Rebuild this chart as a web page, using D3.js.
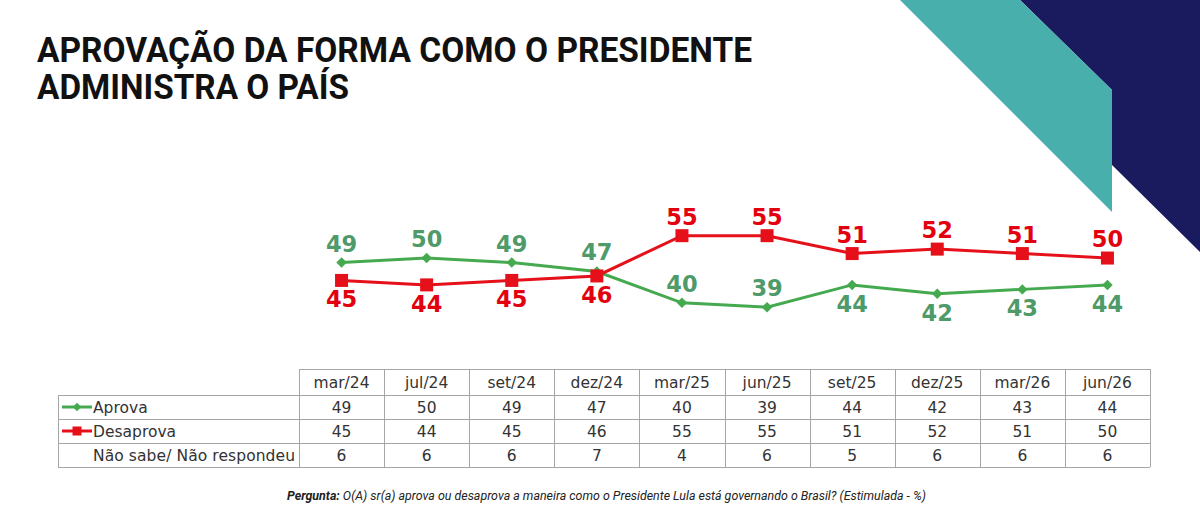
<!DOCTYPE html>
<meta charset='utf-8'>
<style>
html, body {
  margin: 0;
  padding: 0;
  background: #fff;
}
svg {
  display: block;
}
.title {
  font-family: Roboto, 'DejaVu Sans', sans-serif;
  font-weight: 700;
  font-size: 35px;
  fill: #111;
}
.cell {
  font-family: 'DejaVu Sans', Verdana, sans-serif;
  font-size: 15.5px;
  fill: #333;
}
.val {
  font-family: 'DejaVu Sans', Verdana, sans-serif;
  font-weight: bold;
  font-size: 22.5px;
}
.grid {
  stroke: #a6a6a6;
  stroke-width: 1;
  fill: none;
}
.foot {
  font-family: Roboto, sans-serif;
  font-style: italic;
  font-size: 12px;
  fill: #222;
}
</style>
<body>
<div id='chart'></div>
<script src='https://cdn.jsdelivr.net/npm/d3@7/dist/d3.min.js'></script>
<script>

var categories = ['mar/24', 'jul/24', 'set/24', 'dez/24', 'mar/25', 'jun/25', 'set/25', 'dez/25', 'mar/26', 'jun/26'];
var aprova     = [49, 50, 49, 47, 40, 39, 44, 42, 43, 44];
var desaprova  = [45, 44, 45, 46, 55, 55, 51, 52, 51, 50];
var naoSabe    = [6, 6, 6, 7, 4, 6, 5, 6, 6, 6];
var rowLabels  = ['Aprova', 'Desaprova', 'Não sabe/ Não respondeu'];
// where the value label sits relative to its point
var aprovaSide    = ['up', 'up', 'up', 'up', 'up', 'up', 'down', 'down', 'down', 'down'];
var desaprovaSide = ['down', 'down', 'down', 'down', 'up', 'up', 'up', 'up', 'up', 'up'];

var W = 1200, H = 527;
var green = '#45a94f', greenText = '#4f9a69', red = '#e5101a', redText = '#e3000f';

var svg = d3.select('#chart').append('svg')
    .attr('width', W)
    .attr('height', H);

// corner decoration
svg.append('polygon')
  .attr('points', '1020,0 1200,0 1200,252 1112,165 1112,90')
  .attr('fill', '#1a1b5e');
svg.append('polygon')
  .attr('points', '900,0 1020,0 1112,90 1112,212')
  .attr('fill', '#48afad');

// title
svg.append('text').attr('class', 'title')
  .attr('x', 37).attr('y', 62)
  .attr('textLength', 715).attr('lengthAdjust', 'spacingAndGlyphs')
  .text('APROVAÇÃO DA FORMA COMO O PRESIDENTE');
svg.append('text').attr('class', 'title')
  .attr('x', 37).attr('y', 99)
  .attr('textLength', 312).attr('lengthAdjust', 'spacingAndGlyphs')
  .text('ADMINISTRA O PAÍS');

var x = d3.scaleBand()
    .domain(categories)
    .range([299, 1150]);
var cx = function(d) { return x(d) + x.bandwidth() / 2; };

var y = d3.scaleLinear()
    .domain([0, 100])
    .range([481.8, 34.3]);

var line = d3.line()
    .x(function(d, i) { return cx(categories[i]); })
    .y(function(d) { return y(d); });

var diamond = d3.symbol().type(d3.symbolDiamond2).size(70);

// aprova series
svg.append('path')
  .datum(aprova)
  .attr('d', line)
  .attr('fill', 'none')
  .attr('stroke', green)
  .attr('stroke-width', 3);
svg.selectAll('.dm')
  .data(aprova).enter().append('path')
  .attr('class', 'dm')
  .attr('d', diamond)
  .attr('fill', green)
  .attr('transform', function(d, i) { return 'translate(' + cx(categories[i]) + ',' + y(d) + ')'; });

// desaprova series
svg.append('path')
  .datum(desaprova)
  .attr('d', line)
  .attr('fill', 'none')
  .attr('stroke', red)
  .attr('stroke-width', 3);
svg.selectAll('.sq')
  .data(desaprova).enter().append('rect')
  .attr('class', 'sq')
  .attr('x', function(d, i) { return cx(categories[i]) - 6.5; })
  .attr('y', function(d) { return y(d) - 6.5; })
  .attr('width', 13).attr('height', 13)
  .attr('fill', red);

function labels(data, side, color, cls) {
  svg.selectAll('.' + cls)
    .data(data).enter().append('text')
    .attr('class', 'val ' + cls)
    .attr('text-anchor', 'middle')
    .attr('fill', color)
    .attr('x', function(d, i) { return cx(categories[i]); })
    .attr('y', function(d, i) { return y(d) + (side[i] == 'up' ? -11 : 27); })
    .text(function(d) { return d; });
}
labels(aprova, aprovaSide, greenText, 'la');
labels(desaprova, desaprovaSide, redText, 'ld');

// data table
var rowTop = [369, 395, 419, 443, 467];
var tLeft = 58, tLabel = 299, tRight = 1150;

var g = svg.append('g');
// horizontal lines
g.append('line').attr('class', 'grid')
  .attr('x1', tLabel).attr('x2', tRight).attr('y1', rowTop[0] + .5).attr('y2', rowTop[0] + .5);
rowTop.slice(1).forEach(function(t) {
  g.append('line').attr('class', 'grid')
    .attr('x1', tLeft).attr('x2', tRight).attr('y1', t + .5).attr('y2', t + .5);
});
// vertical lines
g.append('line').attr('class', 'grid')
  .attr('x1', tLeft + .5).attr('x2', tLeft + .5).attr('y1', rowTop[1]).attr('y2', rowTop[4]);
categories.forEach(function(c) {
  g.append('line').attr('class', 'grid')
    .attr('x1', Math.round(x(c)) + .5).attr('x2', Math.round(x(c)) + .5)
    .attr('y1', rowTop[0]).attr('y2', rowTop[4]);
});
g.append('line').attr('class', 'grid')
  .attr('x1', tRight + .5).attr('x2', tRight + .5).attr('y1', rowTop[0]).attr('y2', rowTop[4]);

var rowMid = function(r) { return (rowTop[r] + rowTop[r + 1]) / 2 + 5.5; };

g.selectAll('.hd')
  .data(categories).enter().append('text')
  .attr('class', 'cell hd')
  .attr('text-anchor', 'middle')
  .attr('x', function(d) { return cx(d); })
  .attr('y', rowMid(0))
  .text(function(d) { return d; });

[aprova, desaprova, naoSabe].forEach(function(arr, r) {
  g.selectAll('.r' + r)
    .data(arr).enter().append('text')
    .attr('class', 'cell r' + r)
    .attr('text-anchor', 'middle')
    .attr('x', function(d, i) { return cx(categories[i]); })
    .attr('y', rowMid(r + 1))
    .text(function(d) { return d; });
  g.append('text')
    .attr('class', 'cell')
    .attr('x', 93)
    .attr('y', rowMid(r + 1))
    .attr('textLength', r == 2 ? 202 : null)
    .text(rowLabels[r]);
});

// legend keys in the table
var ky1 = (rowTop[1] + rowTop[2]) / 2, ky2 = (rowTop[2] + rowTop[3]) / 2;
g.append('line').attr('x1', 62).attr('x2', 92).attr('y1', ky1).attr('y2', ky1)
  .attr('stroke', green).attr('stroke-width', 3);
g.append('path').attr('d', d3.symbol().type(d3.symbolDiamond2).size(45))
  .attr('fill', green).attr('transform', 'translate(77,' + ky1 + ')');
g.append('line').attr('x1', 62).attr('x2', 92).attr('y1', ky2).attr('y2', ky2)
  .attr('stroke', red).attr('stroke-width', 3);
g.append('rect').attr('x', 72.5).attr('y', ky2 - 4.5).attr('width', 9).attr('height', 9)
  .attr('fill', red);

// footer
var foot = svg.append('text').attr('class', 'foot')
  .attr('x', 287).attr('y', 500)
  .attr('textLength', 639).attr('lengthAdjust', 'spacingAndGlyphs');
foot.append('tspan').attr('font-weight', 700).text('Pergunta: ');
foot.append('tspan').text('O(A) sr(a) aprova ou desaprova a maneira como o Presidente Lula está governando o Brasil? (Estimulada - %)');

</script>
</body>
